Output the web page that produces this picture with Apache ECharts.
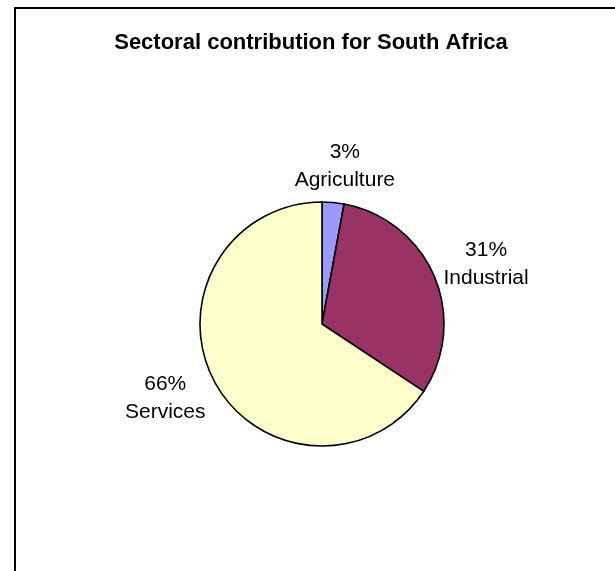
<!DOCTYPE html>
<html>
<head>
<meta charset="utf-8">
<script src="https://cdn.jsdelivr.net/npm/echarts@6/dist/echarts.min.js"></script>
<style>
html,body{margin:0;padding:0;background:#fff;}
#chart{width:615px;height:571px;}
</style>
</head>
<body>
<div id="chart"></div>
<script>
const titleText = 'Sectoral contribution for South Africa';
const categories = ['Agriculture', 'Industrial', 'Services'];
const values = [2.9, 31.4, 65.7];
const colors = ['#9999FF', '#993366', '#FFFFCC'];

const chart = echarts.init(document.getElementById('chart'), null, {renderer: 'canvas'});
const cx = 322, cy = 324, R = 122, gap = 3;
const labelRot = 3 * Math.PI / 180; // clockwise shift of label direction
const FONT = 'Liberation Sans, Arial, Helvetica, sans-serif';

chart.setOption({
  backgroundColor: '#fff',
  animation: false,
  title: {
    text: titleText,
    left: 306,
    textAlign: 'center',
    top: 27,
    textStyle: {fontFamily: FONT, fontSize: 22, fontWeight: 'bold', color: '#000'}
  },
  graphic: [{
    type: 'rect',
    shape: {x: 15, y: 8, width: 800, height: 800},
    style: {fill: 'none', stroke: '#000', lineWidth: 2},
    silent: true
  }],
  series: [{
    type: 'pie',
    center: [cx, cy],
    radius: [0, R],
    startAngle: 90,
    clockwise: true,
    data: categories.map((c, i) => ({name: c, value: values[i], itemStyle: {color: colors[i]}})),
    itemStyle: {borderColor: '#000', borderWidth: 1.6},
    label: {
      show: true,
      position: 'outside',
      formatter: p => Math.round(p.percent) + '%\n' + p.name,
      fontFamily: FONT,
      fontSize: 21,
      lineHeight: 28,
      color: '#000',
      align: 'center'
    },
    labelLine: {show: false, length: 10, length2: 0},
    labelLayout: function (params) {
      const pts = params.labelLinePoints;
      if (!pts) return {};
      const dx = pts[0][0] - cx, dy = pts[0][1] - cy;
      const d = Math.sqrt(dx * dx + dy * dy);
      const ux0 = dx / d, uy0 = dy / d;
      const c = Math.cos(labelRot), s = Math.sin(labelRot);
      const ux = ux0 * c - uy0 * s, uy = ux0 * s + uy0 * c;
      const hw = params.labelRect.width / 2, hh = params.labelRect.height / 2;
      const dist = R + gap + hw * Math.abs(ux) + hh * Math.abs(uy);
      return {
        x: cx + ux * dist,
        y: cy + uy * dist,
        align: 'center',
        verticalAlign: 'middle'
      };
    },
    emphasis: {disabled: true}
  }]
});
</script>
</body>
</html>
